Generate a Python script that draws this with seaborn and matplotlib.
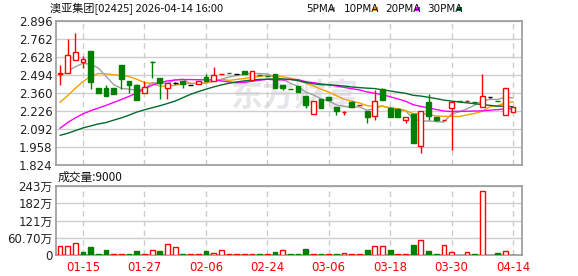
import matplotlib
matplotlib.use("Agg")
import matplotlib.pyplot as plt
import seaborn as sns
import numpy as np
import pandas as pd

# ---------------- data ----------------
dates = ["01-12", "01-13", "01-14", "01-15", "01-16", "01-19", "01-20", "01-21", "01-22", "01-23",
         "01-26", "01-27", "01-28", "01-29", "01-30", "02-02", "02-03", "02-04", "02-05", "02-06",
         "02-09", "02-10", "02-11", "02-12", "02-13", "02-20", "02-23", "02-24", "02-25", "02-26",
         "02-27", "03-02", "03-03", "03-04", "03-05", "03-06", "03-09", "03-10", "03-11", "03-12",
         "03-13", "03-16", "03-17", "03-18", "03-19", "03-20", "03-23", "03-24", "03-25", "03-26",
         "03-27", "03-30", "03-31", "04-01", "04-02", "04-08", "04-09", "04-10", "04-13", "04-14"]

opens = [2.499, 2.506, 2.603, 2.588, 2.673, 2.395, 2.395, 2.395, 2.568, 2.449,
         2.417, 2.357, 2.593, 2.469, 2.397, 2.432, 2.447, 2.419, 2.430, 2.476,
         2.449, 2.499, 2.510, 2.500, 2.521, 2.460, 2.494, 2.490, 2.502, 2.420,
         2.390, 2.415, 2.338, 2.200, 2.312, 2.329, 2.257, 2.219, 2.295, 2.267,
         2.227, 2.186, 2.387, 2.252, 2.240, 2.157, 2.200, 1.968, 2.293, 2.181,
         2.156, 2.251, 2.299, 2.299, 2.294, 2.253, 2.333, 2.299, 2.194, 2.216]
highs = [2.568, 2.764, 2.804, 2.635, 2.673, 2.395, 2.420, 2.395, 2.568, 2.449,
         2.429, 2.447, 2.596, 2.469, 2.434, 2.440, 2.447, 2.422, 2.447, 2.502,
         2.552, 2.502, 2.510, 2.500, 2.521, 2.522, 2.494, 2.490, 2.502, 2.420,
         2.390, 2.415, 2.338, 2.300, 2.312, 2.329, 2.257, 2.224, 2.300, 2.270,
         2.227, 2.385, 2.400, 2.255, 2.250, 2.179, 2.200, 2.226, 2.353, 2.181,
         2.160, 2.300, 2.299, 2.305, 2.294, 2.499, 2.333, 2.299, 2.395, 2.253]
lows = [2.417, 2.506, 2.603, 2.544, 2.392, 2.362, 2.340, 2.355, 2.387, 2.362,
        2.310, 2.357, 2.472, 2.313, 2.313, 2.424, 2.400, 2.416, 2.430, 2.447,
        2.449, 2.498, 2.508, 2.500, 2.501, 2.460, 2.492, 2.488, 2.400, 2.386,
        2.387, 2.370, 2.252, 2.200, 2.251, 2.310, 2.198, 2.199, 2.258, 2.267,
        2.133, 2.156, 2.305, 2.182, 2.182, 2.140, 1.985, 1.917, 2.156, 2.152,
        2.156, 1.933, 2.297, 2.299, 2.292, 2.253, 2.326, 2.297, 2.194, 2.216]
closes = [2.511, 2.643, 2.663, 2.611, 2.444, 2.362, 2.340, 2.355, 2.467, 2.422,
          2.310, 2.402, 2.590, 2.432, 2.434, 2.432, 2.426, 2.419, 2.447, 2.448,
          2.493, 2.501, 2.508, 2.500, 2.501, 2.522, 2.492, 2.488, 2.400, 2.400,
          2.387, 2.370, 2.271, 2.300, 2.251, 2.310, 2.223, 2.222, 2.258, 2.270,
          2.182, 2.298, 2.305, 2.182, 2.182, 2.179, 1.985, 2.226, 2.186, 2.160,
          2.159, 2.295, 2.297, 2.301, 2.292, 2.335, 2.333, 2.297, 2.395, 2.253]

ma5 = [2.484, 2.520, 2.556, 2.581, 2.574, 2.545, 2.484, 2.422, 2.394, 2.389,
       2.379, 2.391, 2.438, 2.431, 2.434, 2.458, 2.463, 2.429, 2.432, 2.434,
       2.447, 2.462, 2.479, 2.490, 2.501, 2.506, 2.505, 2.501, 2.481, 2.460,
       2.433, 2.409, 2.366, 2.346, 2.316, 2.300, 2.271, 2.261, 2.253, 2.257,
       2.231, 2.246, 2.263, 2.247, 2.230, 2.229, 2.167, 2.151, 2.152, 2.147,
       2.143, 2.205, 2.219, 2.242, 2.269, 2.304, 2.312, 2.312, 2.330, 2.323]
ma10 = [2.290, 2.340, 2.395, 2.445, 2.485, 2.505, 2.503, 2.496, 2.492, 2.482,
        2.462, 2.438, 2.430, 2.412, 2.411, 2.418, 2.427, 2.433, 2.431, 2.434,
        2.452, 2.462, 2.454, 2.461, 2.468, 2.477, 2.483, 2.490, 2.485, 2.481,
        2.470, 2.457, 2.433, 2.413, 2.388, 2.367, 2.340, 2.313, 2.299, 2.286,
        2.266, 2.259, 2.262, 2.250, 2.243, 2.230, 2.206, 2.207, 2.200, 2.189,
        2.186, 2.186, 2.185, 2.197, 2.208, 2.224, 2.258, 2.266, 2.286, 2.296]
ma20 = [2.097, 2.140, 2.175, 2.205, 2.228, 2.248, 2.268, 2.290, 2.312, 2.335,
        2.360, 2.390, 2.418, 2.438, 2.450, 2.457, 2.460, 2.460, 2.459, 2.458,
        2.457, 2.450, 2.442, 2.437, 2.439, 2.447, 2.455, 2.462, 2.458, 2.457,
        2.461, 2.460, 2.444, 2.437, 2.428, 2.422, 2.412, 2.402, 2.392, 2.383,
        2.368, 2.358, 2.348, 2.332, 2.316, 2.299, 2.273, 2.260, 2.249, 2.237,
        2.226, 2.222, 2.224, 2.224, 2.226, 2.227, 2.232, 2.236, 2.243, 2.242]
ma30 = [2.045, 2.060, 2.080, 2.100, 2.115, 2.130, 2.140, 2.158, 2.175, 2.195,
        2.218, 2.235, 2.250, 2.265, 2.282, 2.300, 2.325, 2.350, 2.370, 2.388,
        2.405, 2.420, 2.432, 2.442, 2.450, 2.457, 2.461, 2.463, 2.465, 2.465,
        2.461, 2.452, 2.439, 2.429, 2.422, 2.421, 2.417, 2.412, 2.405, 2.400,
        2.396, 2.393, 2.383, 2.375, 2.366, 2.358, 2.343, 2.337, 2.328, 2.318,
        2.307, 2.300, 2.293, 2.287, 2.280, 2.274, 2.268, 2.262, 2.262, 2.257]

# volume in 万 shares
volumes = [31.7, 31.7, 41.0, 10.6, 28.0, 3.5, 17.6, 2.0, 2.0, 3.5,
           14.0, 2.0, 16.4, 14.0, 37.6, 28.0, 3.5, 2.0, 2.0, 14.0,
           7.0, 16.4, 2.0, 2.0, 2.0, 2.0, 2.0, 2.0, 10.6, 16.4,
           2.0, 3.0, 21.0, 2.0, 2.0, 2.0, 2.0, 7.0, 2.0, 2.0,
           17.6, 31.7, 31.7, 17.6, 2.0, 2.0, 35.0, 51.7, 14.0, 3.5,
           34.0, 9.4, 0.0, 9.4, 3.0, 224.0, 0.0, 7.0, 13.0, 0.9]
vol_up = [1, 1, 1, 0, 0, 0, 0, 1, 1, 0,
          0, 1, 1, 0, 1, 1, 0, 1, 1, 0,
          1, 1, 1, 1, 1, 1, 0, 1, 0, 1,
          0, 0, 0, 1, 0, 1, 0, 1, 1, 1,
          0, 1, 1, 0, 1, 1, 0, 1, 0, 0,
          1, 1, 1, 1, 0, 1, 1, 0, 1, 0]

price_ticks = [1.824, 1.958, 2.092, 2.226, 2.360, 2.494, 2.628, 2.762, 2.896]
vol_ticks = [0, 60.70, 121, 182, 243]
vol_tick_labels = ["0", "60.70万", "121万", "182万", "243万"]
label_dates = ["01-15", "01-27", "02-06", "02-24", "03-06", "03-18", "03-30", "04-14"]

title = "澳亚集团[02425] 2026-04-14 16:00"
vol_title = "成交量:9000"
legend_names = ["5PMA", "10PMA", "20PMA", "30PMA"]

# ---------------- style ----------------
RED = "#ff0000"
GREEN = "#007f00"
BLACK = "#000000"
MA_COLORS = ["#a0a0a0", "#f5a000", "#ff00ff", "#006b2e"]
GRID = "#cdcdcd"
SPINE = "#9a9a9a"

sns.set_theme(style="white")
plt.rcParams["font.family"] = ["DejaVu Sans", "Noto Sans CJK SC"]

df = pd.DataFrame({"date": dates, "open": opens, "high": highs, "low": lows,
                   "close": closes, "ma5": ma5, "ma10": ma10, "ma20": ma20,
                   "ma30": ma30, "vol": volumes, "up": vol_up})
df["x"] = np.arange(len(df))

fig = plt.figure(figsize=(5.78, 2.76), dpi=100)
W, H = 578, 276
ax = fig.add_axes([56 / W, 1 - 165 / H, 466 / W, 144 / H])
axv = fig.add_axes([56 / W, 1 - 255 / H, 466 / W, 69 / H])

label_pos = [dates.index(d) for d in label_dates]

for a in (ax, axv):
    a.set_xlim(-0.52, 60.17)
    a.set_xticks(label_pos)
    a.grid(axis="x", color=GRID, linestyle=(0, (4, 3)), linewidth=1.0)
    a.grid(axis="y", color=GRID, linestyle="-", linewidth=1.0)
    a.set_axisbelow(True)
    for s in a.spines.values():
        s.set_color(SPINE)
        s.set_linewidth(1.2)
    a.tick_params(length=0, pad=2.5)

# watermark
ax.text(0.51, 0.47, "东方财富", transform=ax.transAxes, ha="center", va="center",
        fontsize=23, color="#e6e6ea", fontweight="bold", family=["Noto Sans CJK SC"],
        style="italic", zorder=0.5)

# moving averages via seaborn
for col, c in zip(["ma5", "ma10", "ma20", "ma30"], MA_COLORS):
    sns.lineplot(data=df, x="x", y=col, ax=ax, color=c, linewidth=1.0, zorder=2)

# candles
bw = 0.62
for _, r in df.iterrows():
    o, h, l, c, x = r["open"], r["high"], r["low"], r["close"], r["x"]
    if c > o:
        col = RED
    elif c < o:
        col = GREEN
    else:
        col = BLACK
    top, bot = max(o, c), min(o, c)
    if h > top:
        ax.vlines(x, top, h, color=col, linewidth=1.0, zorder=3)
    if l < bot:
        ax.vlines(x, l, bot, color=col, linewidth=1.0, zorder=3)
    if c > o:
        ax.bar(x, top - bot, bottom=bot, width=bw, facecolor="white",
               edgecolor=col, linewidth=1.0, zorder=4)
    else:
        ax.bar(x, max(top - bot, 0.0005), bottom=bot, width=bw, facecolor=col,
               edgecolor=col, linewidth=1.0, zorder=4)

ax.set_ylim(1.824, 2.896)
ax.set_yticks(price_ticks)
ax.set_yticklabels([f"{v:.3f}" for v in price_ticks], fontsize=8.5, color="#222222")
ax.set_xticklabels([])
ax.set_xlabel("")
ax.set_ylabel("")

# volume
for _, r in df.iterrows():
    if r["vol"] <= 0:
        continue
    if r["up"]:
        axv.bar(r["x"], r["vol"], width=bw, facecolor="white", edgecolor=RED,
                linewidth=1.0, zorder=3)
    else:
        axv.bar(r["x"], r["vol"], width=bw, facecolor=GREEN, edgecolor=GREEN,
                linewidth=1.0, zorder=3)
axv.set_ylim(0, 243)
axv.set_yticks(vol_ticks)
axv.set_yticklabels(vol_tick_labels, fontsize=8.5, color="#222222")
axv.set_xticklabels(label_dates, fontsize=8.5, color=RED)
axv.tick_params(axis="x", pad=4)
axv.set_xlabel("")
axv.set_ylabel("")

# texts
fig.text(50 / W, 1 - 9 / H, title, fontsize=8.0, ha="left", va="center",
         family=["Noto Sans CJK SC", "DejaVu Sans"], color="#111111")
fig.text(58 / W, 1 - 177 / H, vol_title, fontsize=8.5, ha="left", va="center",
         family=["Noto Sans CJK SC", "DejaVu Sans"], color="#111111")

lx = [306, 344, 385, 427]
for name, x0 in zip(legend_names, lx):
    fig.text(x0 / W, 1 - 9 / H, name, fontsize=7.5, ha="left", va="center",
             color="#111111")
sq_x = [330, 373, 415, 457]
for c, x0 in zip(MA_COLORS, sq_x):
    fig.patches.append(plt.Rectangle((x0 / W, 1 - 10.5 / H), 5 / W, 3 / H,
                                     transform=fig.transFigure, facecolor=c,
                                     edgecolor="none", figure=fig))

fig.savefig("out.png", dpi=100)
